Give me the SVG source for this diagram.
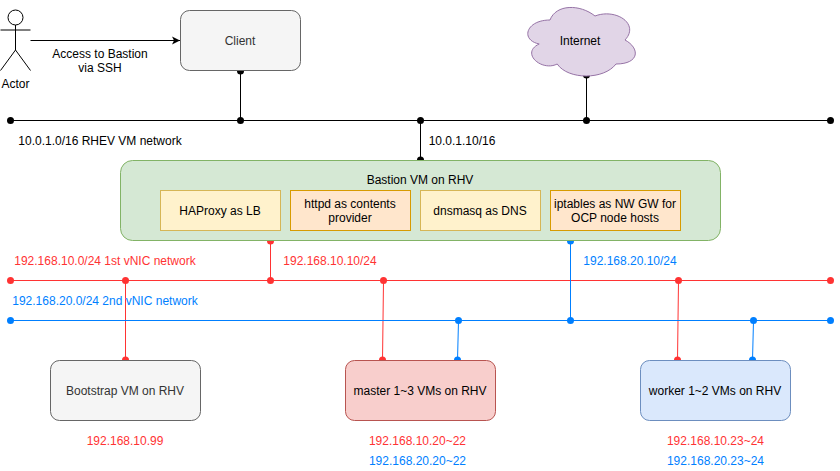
<svg xmlns="http://www.w3.org/2000/svg" width="840" height="471" viewBox="0 0 840 471">
<style>
text{font-family:"Liberation Sans",Arial,sans-serif;font-size:12px;text-anchor:middle;fill:#000}
.r{fill:#ff3333}
.b{fill:#007fff}
.g{fill:#333}
.k{stroke:#000;fill:none}
.rl{stroke:#ff3333;fill:none}
.bl{stroke:#007fff;fill:none}
.kd{fill:#000}.rd{fill:#ff3333}.bd{fill:#007fff}
</style>
<defs>
<marker id="arrow" markerUnits="userSpaceOnUse" markerWidth="10" markerHeight="10" refX="8" refY="4.5" orient="auto"><path d="M0 0.5L8 4.5L0 8.5L2 4.5Z" fill="#000"/></marker>
</defs>
<rect width="840" height="471" fill="#fff"/>
<g id="connectors">
<path class="k" d="M30.5 40.5H180" marker-end="url(#arrow)"/>
<path class="k" d="M10.5 120.5H830.5M240.5 70.5V120.5M586.5 75V120.5M420.5 120.5V160.5"/>
<g class="kd"><circle cx="10.5" cy="120.5" r="3.5"/><circle cx="830.5" cy="120.5" r="3.5"/><circle cx="240.5" cy="120.5" r="3.5"/><circle cx="420.5" cy="120.5" r="3.5"/><circle cx="586.5" cy="120.5" r="3.5"/><circle cx="240.5" cy="71" r="3.5"/><circle cx="586.5" cy="75" r="3.5"/><circle cx="420.5" cy="160" r="3.5"/></g>
<path class="rl" d="M10.5 280.5H830.5M270.5 240.5V280.5M125.5 280.5V360.5M383.5 280.5L382.5 360.5M678.5 280.5L677.5 360.5"/>
<path class="bl" d="M10.5 320.5H830.5M570.5 240.5V320.5M458.5 320.5L457.5 360.5M753.5 320.5L752.5 360.5"/>
<g class="rd"><circle cx="10.5" cy="280.5" r="3.5"/><circle cx="830.5" cy="280.5" r="3.5"/><circle cx="270.5" cy="280.5" r="3.5"/><circle cx="125.5" cy="280.5" r="3.5"/><circle cx="383.5" cy="280.5" r="3.5"/><circle cx="678.5" cy="280.5" r="3.5"/><circle cx="270.5" cy="241" r="3.5"/><circle cx="125.5" cy="360" r="3.5"/><circle cx="382.5" cy="360" r="3.5"/><circle cx="677.5" cy="360" r="3.5"/></g>
<g class="bd"><circle cx="10.5" cy="320.5" r="3.5"/><circle cx="830.5" cy="320.5" r="3.5"/><circle cx="570.5" cy="320.5" r="3.5"/><circle cx="458.5" cy="320.5" r="3.5"/><circle cx="753.5" cy="320.5" r="3.5"/><circle cx="570.5" cy="241" r="3.5"/><circle cx="457.5" cy="360" r="3.5"/><circle cx="752.5" cy="360" r="3.5"/></g>
</g>
<g id="actor" fill="none" stroke="#000">
<circle cx="15.5" cy="17.5" r="7.5" fill="#fff"/>
<path d="M15.5 25V50M0.500 30H30.500M15.500 50L0.500 70.500M15.500 50L30.500 70.500"/>
<text x="15.500" y="88" stroke="none">Actor</text>
</g>
<g id="client">
<rect x="180.500" y="10.500" width="120" height="60" rx="9" fill="#f5f5f5" stroke="#666"/>
<text class="g" x="240" y="45">Client</text>
</g>
<g id="internet">
<path d="M550 20C526 20 520 40 539.200 44C520 52.800 541.600 72 557.200 64C568 80 604 80 616 64C640 64 640 48 625 40C640 24 616 8 595 16C580 4 556 4 550 20Z" fill="#e1d5e7" stroke="#9673a6"/>
<text x="580" y="45">Internet</text>
</g>
<g id="bastion">
<rect x="120.500" y="160.500" width="600" height="80" rx="12" fill="#d5e8d4" stroke="#82b366"/>
<text x="420" y="184">Bastion VM on RHV</text>
</g>
<g id="haproxy">
<rect x="160.500" y="190.500" width="120" height="40" fill="#fff2cc" stroke="#d6b656"/>
<text x="220" y="215">HAProxy as LB</text>
</g>
<g id="httpd">
<rect x="290.500" y="190.500" width="120" height="40" fill="#ffe6cc" stroke="#d79b00"/>
<text x="350" y="208">httpd as contents</text><text x="350" y="222">provider</text>
</g>
<g id="dnsmasq">
<rect x="420.500" y="190.500" width="120" height="40" fill="#fff2cc" stroke="#d6b656"/>
<text x="480" y="215">dnsmasq as DNS</text>
</g>
<g id="iptables">
<rect x="550.500" y="190.500" width="130" height="40" fill="#ffe6cc" stroke="#d79b00"/>
<text x="615" y="208">iptables as NW GW for</text><text x="615" y="222">OCP node hosts</text>
</g>
<g id="bootstrap">
<rect x="50.500" y="360.500" width="150" height="60" rx="9" fill="#f5f5f5" stroke="#666"/>
<text class="g" x="125" y="395">Bootstrap VM on RHV</text>
</g>
<g id="master">
<rect x="345.500" y="360.500" width="150" height="60" rx="9" fill="#f8cecc" stroke="#b85450"/>
<text x="420" y="395">master 1~3 VMs on RHV</text>
</g>
<g id="worker">
<rect x="640.500" y="360.500" width="150" height="60" rx="9" fill="#dae8fc" stroke="#6c8ebf"/>
<text x="715" y="395">worker 1~2 VMs on RHV</text>
</g>
<g id="labels">
<text x="100" y="58">Access to Bastion</text><text x="100" y="72">via SSH</text>
<text x="100" y="145">10.0.1.0/16 RHEV VM network</text>
<text x="462" y="145">10.0.1.10/16</text>
<text class="r" x="105" y="265">192.168.10.0/24 1st vNIC network</text>
<text class="r" x="330" y="265">192.168.10.10/24</text>
<text class="b" x="630" y="265">192.168.20.10/24</text>
<text class="b" x="105" y="305">192.168.20.0/24 2nd vNIC network</text>
<text class="r" x="125" y="445">192.168.10.99</text>
<text class="r" x="417.500" y="445">192.168.10.20~22</text>
<text class="b" x="417.500" y="465">192.168.20.20~22</text>
<text class="r" x="715.500" y="445">192.168.10.23~24</text>
<text class="b" x="715.500" y="465">192.168.20.23~24</text>
</g>
</svg>
